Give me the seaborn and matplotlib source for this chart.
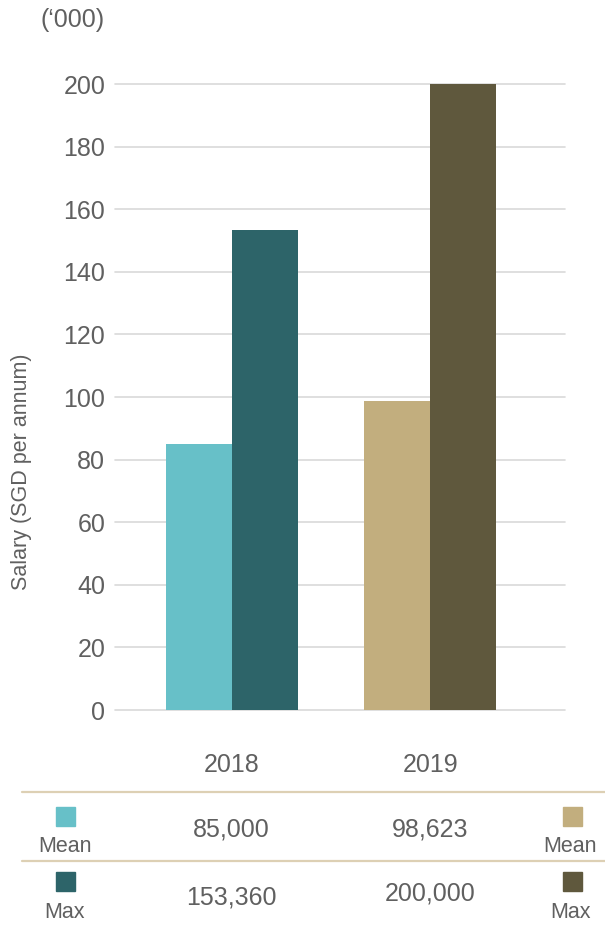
import matplotlib
matplotlib.use("Agg")
import matplotlib.pyplot as plt
import seaborn as sns
import pandas as pd
from matplotlib.lines import Line2D

# ---- data ----
years = ["2018", "2019"]
stats = ["Mean", "Max"]
mean_vals = [85.0, 98.623]
max_vals = [153.36, 200.0]
mean_labels = ["85,000", "98,623"]
max_labels = ["153,360", "200,000"]
yticks = [0, 20, 40, 60, 80, 100, 120, 140, 160, 180, 200]

colors = {
    ("2018", "Mean"): "#67C0C8",
    ("2018", "Max"): "#2D6469",
    ("2019", "Mean"): "#C2AE7E",
    ("2019", "Max"): "#5F583D",
}

df = pd.DataFrame({
    "year": years * 2,
    "stat": ["Mean"] * 2 + ["Max"] * 2,
    "value": mean_vals + max_vals,
})

sns.set_theme(style="white")
plt.rcParams["font.family"] = ["Liberation Sans", "DejaVu Sans"]
TXT = "#606060"

W, H = 605, 925
fig = plt.figure(figsize=(W / 100, H / 100), dpi=100)
ax = fig.add_axes([115 / W, 1 - 710 / H, 450 / W, (710 - 84) / H])

sns.barplot(data=df, x="year", y="value", hue="stat", order=years,
            hue_order=stats, width=0.667, ax=ax, legend=False,
            saturation=1, linewidth=0)

for i, cont in enumerate(ax.containers):
    for j, bar in enumerate(cont):
        bar.set_facecolor(colors[(years[j], stats[i])])
        bar.set_zorder(3)

ax.set_ylim(0, 200)
ax.set_xlim(-0.59, 1.68)
ax.set_yticks(yticks)
ax.yaxis.grid(True, color="#D9D9D9", linewidth=1.2, zorder=0)
ax.set_axisbelow(True)
for s in ax.spines.values():
    s.set_visible(False)
ax.tick_params(axis="y", length=0, pad=7, labelsize=18, labelcolor=TXT)
ax.tick_params(axis="x", length=0, pad=31, labelsize=18, labelcolor=TXT)
ax.set_xlabel("")
ax.set_ylabel("")
for gl in ax.get_ygridlines():
    gl.set_clip_on(False)

fig.text(22 / W, 1 - 472 / H, "Salary (SGD per annum)", rotation=90,
         ha="center", va="center", fontsize=15.5, color=TXT)
fig.text(105 / W, 1 - 20 / H, "(\u2018000)", ha="right", va="center",
         fontsize=18, color=TXT)

# table lines
for yy in (792, 861):
    fig.add_artist(Line2D([22 / W, 1.0], [1 - yy / H, 1 - yy / H],
                          color="#DDD0B4", linewidth=1.6))

# legend squares + labels
def square(cx, cy, c):
    s = 19
    fig.add_artist(plt.Rectangle(((cx - s / 2) / W, 1 - (cy + s / 2) / H),
                                 s / W, s / H, color=c, transform=fig.transFigure))

square(65, 816, colors[("2018", "Mean")])
square(65, 881, colors[("2018", "Max")])
square(572, 816, colors[("2019", "Mean")])
square(572, 881, colors[("2019", "Max")])
for cx in (65, 570):
    fig.text(cx / W, 1 - 847 / H, "Mean", ha="center", va="center", fontsize=15.5, color=TXT)
    fig.text(cx / W, 1 - 912 / H, "Max", ha="center", va="center", fontsize=15.5, color=TXT)

xc = [231, 430]
for k in range(2):
    fig.text(xc[k] / W, 1 - 829 / H, mean_labels[k], ha="center", va="center",
             fontsize=18, color=TXT)
fig.text(xc[0] / W, 1 - 897 / H, max_labels[0], ha="center", va="center", fontsize=18, color=TXT)
fig.text(xc[1] / W, 1 - 893 / H, max_labels[1], ha="center", va="center", fontsize=18, color=TXT)

fig.savefig("out.png", dpi=100)
